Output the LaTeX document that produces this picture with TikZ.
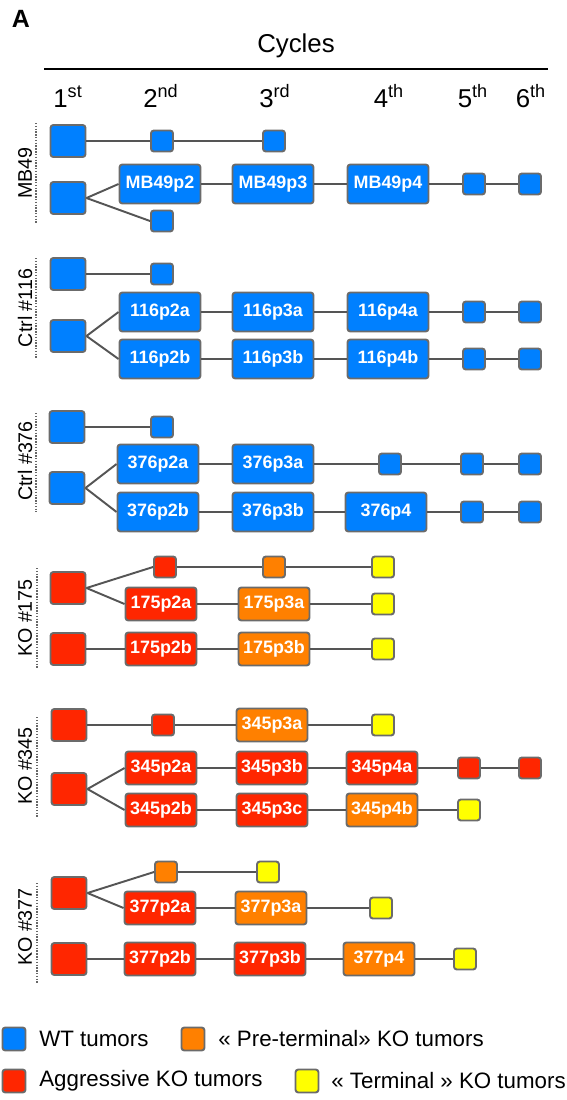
\documentclass[tikz,border=0pt]{standalone}
\usepackage{fontspec}
\setmainfont{Liberation Sans}
\definecolor{wtblue}{HTML}{0080FF}
\definecolor{aggred}{HTML}{FF2600}
\definecolor{preorange}{HTML}{FF8000}
\definecolor{termyellow}{HTML}{FFFF00}
\definecolor{edgegray}{HTML}{6B6B6B}
\definecolor{linkgray}{HTML}{555555}

\begin{document}
\begin{tikzpicture}[%
      x=0.02cm, y=-0.02cm,
      tum/.style={draw=edgegray, line width=1.1pt, rounded corners=1.6pt,
        inner sep=0pt, text=white, font=\fontsize{10.2}{11}\selectfont\bfseries},
      bigsq/.style={tum, minimum width=0.70cm, minimum height=0.64cm},
      smallsq/.style={tum, minimum width=0.44cm, minimum height=0.42cm},
      wtbox/.style={tum, minimum width=1.62cm, minimum height=0.78cm},
      kobox/.style={tum, minimum width=1.42cm, minimum height=0.66cm},
      keysq/.style={tum, minimum width=0.46cm, minimum height=0.46cm},
      wt/.style={fill=wtblue},
      agg/.style={fill=aggred},
      pre/.style={fill=preorange},
      term/.style={fill=termyellow},
      link/.style={draw=linkgray, line width=1.1pt},
      tag/.style={rotate=90, font=\fontsize{11.2}{13}\selectfont},
      dotrule/.style={draw=black!60, line width=1pt, dash pattern=on 0.8pt off 0.8pt},
      keytext/.style={anchor=west, inner sep=0pt, font=\fontsize{12.7}{15}\selectfont},
      cyc/.style={anchor=base, inner sep=0pt, font=\fontsize{14.7}{17}\selectfont},
      ]
      \useasboundingbox (0,0) rectangle (566,1100);

      % header
      \node[font=\fontsize{14.2}{17}\selectfont\bfseries] (panel) at (21,19) {A};
      \node[font=\fontsize{14.7}{17}\selectfont] (cycles) at (296,46) {Cycles};
      \coordinate (rulel) at (44,69);
      \coordinate (ruler) at (548,69);
      \draw[line width=1.2pt] (rulel) -- (ruler);
      \node[cyc] (c1) at (68,107) {1\textsuperscript{st}};
      \node[cyc] (c2) at (161,107) {2\textsuperscript{nd}};
      \node[cyc] (c3) at (275,107) {3\textsuperscript{rd}};
      \node[cyc] (c4) at (389,107) {4\textsuperscript{th}};
      \node[cyc] (c5) at (473,107) {5\textsuperscript{th}};
      \node[cyc] (c6) at (531,107) {6\textsuperscript{th}};

      % MB49
      \node[tag] (lmb) at (25,173) {MB49};
      \coordinate (mbt) at (36,123);
      \coordinate (mbb) at (36,223);
      \draw[dotrule] (mbt) -- (mbb);
      \node[bigsq,wt] (mb1) at (68,141) {};
      \node[smallsq,wt] (mb1b) at (162,141) {};
      \node[smallsq,wt] (mb1c) at (274,141) {};
      \node[bigsq,wt] (mb2) at (68,198) {};
      \node[wtbox,wt] (mbp2) at (160,184) {MB49p2};
      \node[wtbox,wt] (mbp3) at (273,184) {MB49p3};
      \node[wtbox,wt] (mbp4) at (388,184) {MB49p4};
      \node[smallsq,wt] (mbp5) at (474,184) {};
      \node[smallsq,wt] (mbp6) at (530,184) {};
      \node[smallsq,wt] (mb2c) at (162,221) {};
      \draw[link] (mb1) -- (mb1b) -- (mb1c);
      \draw[link] (mb2.east) -- (mbp2.west);
      \draw[link] (mb2.east) -- (mb2c.west);
      \draw[link] (mbp2) -- (mbp3) -- (mbp4) -- (mbp5) -- (mbp6);

      % Ctrl #116
      \node[tag] (lct) at (25,308) {Ctrl \#116};
      \coordinate (ctt) at (36,258);
      \coordinate (ctb) at (36,358);
      \draw[dotrule] (ctt) -- (ctb);
      \node[bigsq,wt] (ct1) at (68,274) {};
      \node[smallsq,wt] (ct1b) at (162,274) {};
      \node[bigsq,wt] (ct2) at (68,336) {};
      \node[wtbox,wt] (ctp2a) at (160,312) {116p2a};
      \node[wtbox,wt] (ctp3a) at (273,312) {116p3a};
      \node[wtbox,wt] (ctp4a) at (388,312) {116p4a};
      \node[smallsq,wt] (ctp5a) at (474,312) {};
      \node[smallsq,wt] (ctp6a) at (530,312) {};
      \node[wtbox,wt] (ctp2b) at (160,359) {116p2b};
      \node[wtbox,wt] (ctp3b) at (273,359) {116p3b};
      \node[wtbox,wt] (ctp4b) at (388,359) {116p4b};
      \node[smallsq,wt] (ctp5b) at (474,359) {};
      \node[smallsq,wt] (ctp6b) at (530,359) {};
      \draw[link] (ct1) -- (ct1b);
      \draw[link] (ct2.east) -- (ctp2a.west);
      \draw[link] (ct2.east) -- (ctp2b.west);
      \draw[link] (ctp2a) -- (ctp3a) -- (ctp4a) -- (ctp5a) -- (ctp6a);
      \draw[link] (ctp2b) -- (ctp3b) -- (ctp4b) -- (ctp5b) -- (ctp6b);

      % Ctrl #376
      \node[tag] (lcs) at (25,461) {Ctrl \#376};
      \coordinate (cst) at (36,413);
      \coordinate (csb) at (36,512);
      \draw[dotrule] (cst) -- (csb);
      \node[bigsq,wt] (cs1) at (67,427) {};
      \node[smallsq,wt] (cs1b) at (162,427) {};
      \node[bigsq,wt] (cs2) at (67,488) {};
      \node[wtbox,wt] (csp2a) at (158,464) {376p2a};
      \node[wtbox,wt] (csp3a) at (273,464) {376p3a};
      \node[smallsq,wt] (csp4a) at (390,464) {};
      \node[smallsq,wt] (csp5a) at (472,464) {};
      \node[smallsq,wt] (csp6a) at (530,464) {};
      \node[wtbox,wt] (csp2b) at (158,512) {376p2b};
      \node[wtbox,wt] (csp3b) at (273,512) {376p3b};
      \node[wtbox,wt] (csp4b) at (386,512) {376p4};
      \node[smallsq,wt] (csp5b) at (472,512) {};
      \node[smallsq,wt] (csp6b) at (530,512) {};
      \draw[link] (cs1) -- (cs1b);
      \draw[link] (cs2.east) -- (csp2a.west);
      \draw[link] (cs2.east) -- (csp2b.west);
      \draw[link] (csp2a) -- (csp3a) -- (csp4a) -- (csp5a) -- (csp6a);
      \draw[link] (csp2b) -- (csp3b) -- (csp4b) -- (csp5b) -- (csp6b);

      % KO #175
      \node[tag] (lka) at (25,618) {KO \#175};
      \coordinate (kat) at (37,568);
      \coordinate (kab) at (37,668);
      \draw[dotrule] (kat) -- (kab);
      \node[bigsq,agg] (ka1) at (68,588) {};
      \node[smallsq,agg] (ka1b) at (165,567) {};
      \node[smallsq,pre] (ka1c) at (274,567) {};
      \node[smallsq,term] (ka1d) at (383,567) {};
      \node[kobox,agg] (kap2a) at (161,604) {175p2a};
      \node[kobox,pre] (kap3a) at (274,604) {175p3a};
      \node[smallsq,term] (kap4a) at (383,604) {};
      \node[bigsq,agg] (ka2) at (68,649) {};
      \node[kobox,agg] (kap2b) at (161,649) {175p2b};
      \node[kobox,pre] (kap3b) at (274,649) {175p3b};
      \node[smallsq,term] (kap4b) at (383,649) {};
      \draw[link] (ka1.east) -- (ka1b.west);
      \draw[link] (ka1.east) -- (kap2a.west);
      \draw[link] (ka1b) -- (ka1c) -- (ka1d);
      \draw[link] (kap2a) -- (kap3a) -- (kap4a);
      \draw[link] (ka2) -- (kap2b) -- (kap3b) -- (kap4b);

      % KO #345
      \node[tag] (lkb) at (25,766) {KO \#345};
      \coordinate (kbt) at (37,717);
      \coordinate (kbb) at (37,817);
      \draw[dotrule] (kbt) -- (kbb);
      \node[bigsq,agg] (kb1) at (69,725) {};
      \node[smallsq,agg] (kb1b) at (163,725) {};
      \node[kobox,pre] (kb1c) at (272,725) {345p3a};
      \node[smallsq,term] (kb1d) at (383,725) {};
      \node[bigsq,agg] (kb2) at (69,789) {};
      \node[kobox,agg] (kbp2a) at (161,768) {345p2a};
      \node[kobox,agg] (kbp3b) at (272,768) {345p3b};
      \node[kobox,agg] (kbp4a) at (382,768) {345p4a};
      \node[smallsq,agg] (kbp5a) at (469,768) {};
      \node[smallsq,agg] (kbp6a) at (530,768) {};
      \node[kobox,agg] (kbp2b) at (161,810) {345p2b};
      \node[kobox,agg] (kbp3c) at (272,810) {345p3c};
      \node[kobox,pre] (kbp4b) at (382,810) {345p4b};
      \node[smallsq,term] (kbp5b) at (469,810) {};
      \draw[link] (kb1) -- (kb1b) -- (kb1c) -- (kb1d);
      \draw[link] (kb2.east) -- (kbp2a.west);
      \draw[link] (kb2.east) -- (kbp2b.west);
      \draw[link] (kbp2a) -- (kbp3b) -- (kbp4a) -- (kbp5a) -- (kbp6a);
      \draw[link] (kbp2b) -- (kbp3c) -- (kbp4b) -- (kbp5b);

      % KO #377
      \node[tag] (lkc) at (25,927) {KO \#377};
      \coordinate (kct) at (37,883);
      \coordinate (kcb) at (37,983);
      \draw[dotrule] (kct) -- (kcb);
      \node[bigsq,agg] (kc1) at (69,893) {};
      \node[smallsq,pre] (kc1b) at (166,872) {};
      \node[smallsq,term] (kc1c) at (268,872) {};
      \node[kobox,agg] (kcp2a) at (160,908) {377p2a};
      \node[kobox,pre] (kcp3a) at (271,908) {377p3a};
      \node[smallsq,term] (kcp4a) at (381,908) {};
      \node[bigsq,agg] (kc2) at (69,959) {};
      \node[kobox,agg] (kcp2b) at (160,959) {377p2b};
      \node[kobox,agg] (kcp3b) at (270,959) {377p3b};
      \node[kobox,pre] (kcp4b) at (379,959) {377p4};
      \node[smallsq,term] (kcp5b) at (465,959) {};
      \draw[link] (kc1.east) -- (kc1b.west);
      \draw[link] (kc1.east) -- (kcp2a.west);
      \draw[link] (kc1b) -- (kc1c);
      \draw[link] (kcp2a) -- (kcp3a) -- (kcp4a);
      \draw[link] (kc2) -- (kcp2b) -- (kcp3b) -- (kcp4b) -- (kcp5b);

      % legend
      \node[keysq,wt] (kwt) at (14,1039) {};
      \node[keytext] (twt) at (39,1039) {WT tumors};
      \node[keysq,pre] (kpre) at (193,1039) {};
      \node[keytext] (tpre) at (218,1039) {« Pre-terminal» KO tumors};
      \node[keysq,agg] (kagg) at (14,1081) {};
      \node[keytext] (tagg) at (39,1081) {Aggressive KO tumors};
      \node[keysq,term] (kterm) at (307,1081) {};
      \node[keytext] (tterm) at (331,1081) {« Terminal » KO tumors};
      \end{tikzpicture}
\end{document}
